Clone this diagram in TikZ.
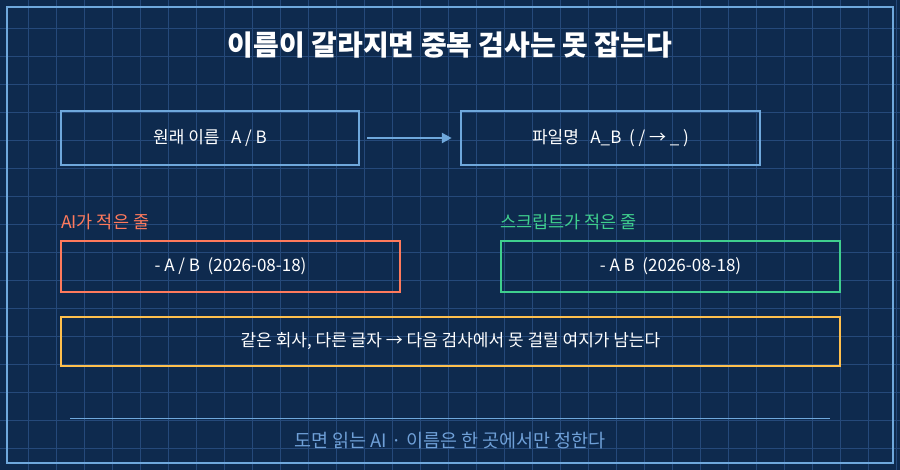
\documentclass[tikz,border=0pt]{standalone}
\usepackage{fontspec}
\setmainfont{Noto Sans CJK KR}
\usetikzlibrary{arrows.meta}
\definecolor{bg}{HTML}{0E2A4E}
\definecolor{gridc}{HTML}{25497A}
\definecolor{frame}{HTML}{6FA8DC}
\definecolor{ored}{HTML}{FF7A5C}
\definecolor{grn}{HTML}{3FCF8E}
\definecolor{yel}{HTML}{FFC04D}
\definecolor{foot}{HTML}{6FA0D8}
\tikzset{
 bx/.style={draw=#1, line width=2.5pt, inner sep=0pt, text=white, font=\fontsize{17}{20}\selectfont},
 lbl/.style={text=#1, anchor=west, inner sep=0pt, font=\fontsize{17.5}{20}\selectfont}
}
\begin{document}
\begin{tikzpicture}[x=1pt,y=-1pt]
\fill[bg] (0,0) rectangle (900,470);
\useasboundingbox (0,0) rectangle (900,470);
\foreach \i in {28,56,...,896} \draw[gridc, line width=0.8pt] (\i,0) -- (\i,470);
\foreach \j in {28,56,...,468} \draw[gridc, line width=0.8pt] (0,\j) -- (900,\j);
\draw[frame, line width=2pt] (7,7) rectangle (893,463);
\node[text=white, font=\bfseries\fontsize{28}{32}\selectfont] (title) at (450,45) {이름이 갈라지면 중복 검사는 못 잡는다};
\node[bx=frame, minimum width=298pt, minimum height=54pt] (orig) at (210,138) {원래 이름\ \ \ A / B};
\node[bx=frame, minimum width=299pt, minimum height=54pt] (file) at (610.5,138) {파일명\ \ \ A\_B\ \ ( / → \_ )};
\draw[frame, line width=2.5pt, -{Triangle[length=10pt,width=10pt]}] (orig.east)++(7,0) -- ([xshift=-8pt]file.west);
\node[lbl=ored] (l1) at (61,222) {AI가 적은 줄};
\node[bx=ored, minimum width=339pt, minimum height=51pt] (ai) at (230.5,266.5) {- A / B\ \ (2026-08-18)};
\node[lbl=grn] (l2) at (500,222) {스크립트가 적은 줄};
\node[bx=grn, minimum width=339pt, minimum height=51pt] (sc) at (670.5,266.5) {- A B\ \ (2026-08-18)};
\node[bx=yel, minimum width=779pt, minimum height=49pt] (note) at (450.5,341.5) {같은 회사, 다른 글자 → 다음 검사에서 못 걸릴 여지가 남는다};
\coordinate (la) at (70,418); \coordinate (lb) at (830,418);
\draw[frame, line width=0.8pt] (la) -- (lb);
\node[text=foot, font=\fontsize{18.5}{22}\selectfont] (ft) at (450,441) {도면 읽는 AI · 이름은 한 곳에서만 정한다};
\end{tikzpicture}
\end{document}
